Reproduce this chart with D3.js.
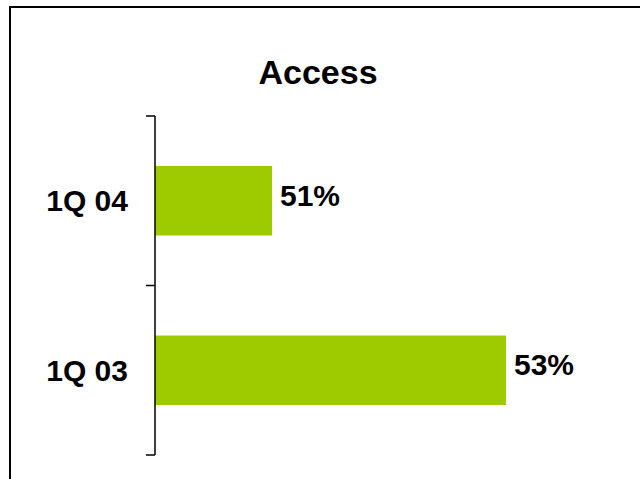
<!DOCTYPE html>
<html>
<head>
<meta charset="utf-8">
<script src="https://cdn.jsdelivr.net/npm/d3@7"></script>
<style>
  html, body { margin: 0; padding: 0; background: #fff; }
  svg { display: block; }
  text { font-family: "Liberation Sans", Arial, sans-serif; font-weight: bold; fill: #000; }
</style>
</head>
<body>
<script>
// Survey results by quarter
const title = "Access";
const categories = ["1Q 04", "1Q 03"];
const values = [51, 53];
const valueLabels = ["51%", "53%"];

const W = 640, H = 479;
const svg = d3.select("body").append("svg").attr("width", W).attr("height", H);

// outer frame (open at right and bottom)
svg.append("rect")
  .attr("x", 10).attr("y", 7)
  .attr("width", W).attr("height", H)
  .attr("fill", "none").attr("stroke", "#000").attr("stroke-width", 2);

const plot = { left: 155, top: 116, bottom: 455 };

const x = d3.scaleLinear().domain([50, 54]).range([plot.left, plot.left + 468]);
const y = d3.scaleBand().domain(categories)
  .range([plot.top, plot.bottom])
  .paddingInner(0.59).paddingOuter(0.295);

// title
svg.append("text")
  .attr("x", 318).attr("y", 84)
  .attr("text-anchor", "middle")
  .attr("font-size", 34)
  .text(title);

// bars
svg.selectAll("rect.bar").data(values).join("rect")
  .attr("class", "bar")
  .attr("x", x(50))
  .attr("y", (d, i) => y(categories[i]))
  .attr("width", d => x(d) - x(50))
  .attr("height", y.bandwidth())
  .attr("fill", "#9dcb00");

// category axis: line with ticks at section boundaries
const sectionTicks = [plot.top, ...categories.map(c => y(c) + y.bandwidth() / 2 + y.step() / 2)];
const axisG = svg.append("g").attr("stroke", "#000").attr("stroke-width", 1.5);
axisG.append("line")
  .attr("x1", plot.left).attr("x2", plot.left)
  .attr("y1", plot.top).attr("y2", plot.bottom);
axisG.selectAll("line.tick").data(sectionTicks).join("line")
  .attr("class", "tick")
  .attr("x1", plot.left - 9).attr("x2", plot.left)
  .attr("y1", d => d).attr("y2", d => d);

// category labels
svg.selectAll("text.cat").data(categories).join("text")
  .attr("class", "cat")
  .attr("x", 128)
  .attr("y", d => y(d) + y.bandwidth() / 2)
  .attr("dy", "0.35em")
  .attr("text-anchor", "end")
  .attr("font-size", 30)
  .text(d => d);

// value labels
svg.selectAll("text.val").data(values).join("text")
  .attr("class", "val")
  .attr("x", d => x(d) + 8)
  .attr("y", (d, i) => y(categories[i]) + y.bandwidth() / 2 + 5)
  .attr("font-size", 30)
  .text((d, i) => valueLabels[i]);
</script>
</body>
</html>
